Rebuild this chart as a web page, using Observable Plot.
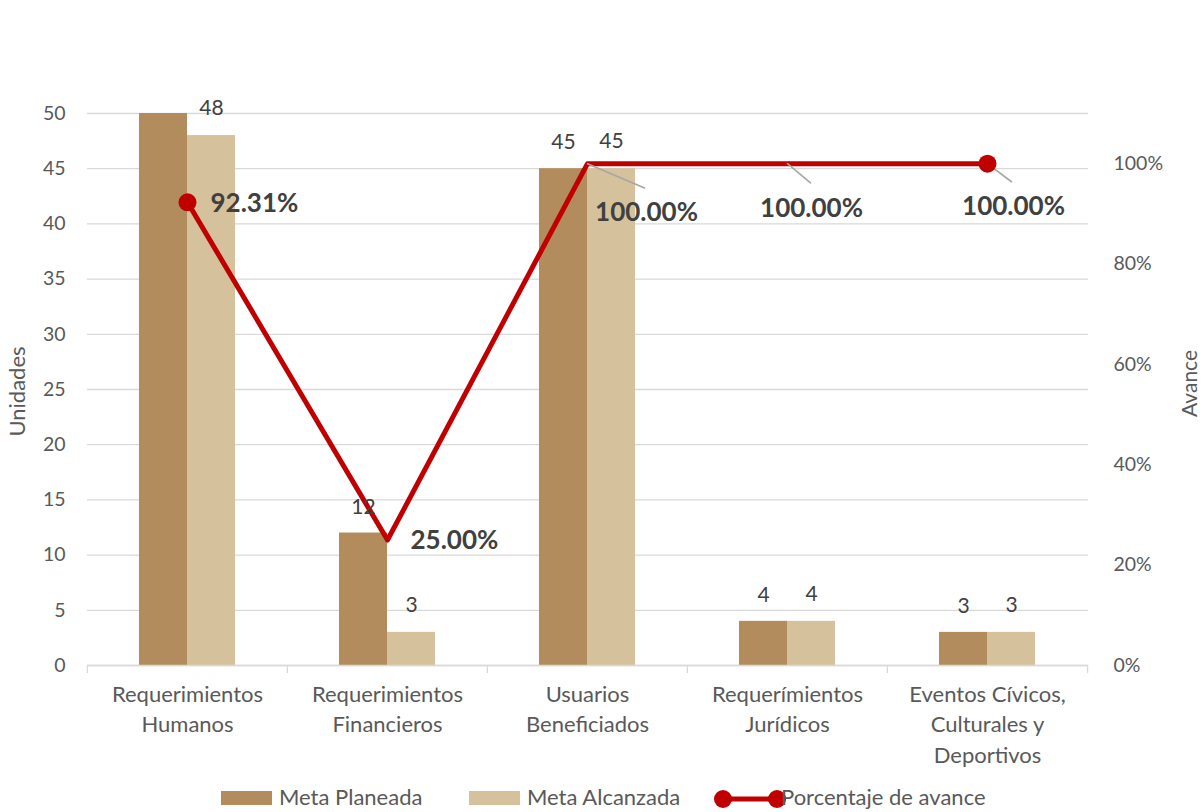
<!DOCTYPE html>
<html>
<head>
<meta charset="utf-8">
<script src="https://cdn.jsdelivr.net/npm/d3@7"></script>
<script src="https://cdn.jsdelivr.net/npm/@observablehq/plot@0.6"></script>
<style>
  body { margin: 0; background: #fff; font-family: Lato, "Open Sans", sans-serif; }
  #wrap { width: 1203px; height: 812px; position: relative; overflow: hidden; }
  #legend { position: absolute; left: 0; top: 782px; width: 1203px; height: 30px; font-size: 22px; color: #595959; }
  #legend .sw { position: absolute; top: 9px; width: 51px; height: 14px; }
  #legend .tx { position: absolute; top: 2px; line-height: 26px; white-space: nowrap; }
</style>
</head>
<body>
<div id="wrap">
  <div id="chart"></div>
  <div id="legend"></div>
</div>
<script>
// ---- Data ----
const categories = [
  "Requerimientos\nHumanos",
  "Requerimientos\nFinancieros",
  "Usuarios\nBeneficiados",
  "Requerímientos\nJurídicos",
  "Eventos Cívicos,\nCulturales y\nDeportivos"
];
const metaPlaneada  = [52, 12, 45, 4, 3];
const metaAlcanzada = [48, 3, 45, 4, 3];
const porcentaje    = [0.9231, 0.25, 1.0, 1.0, 1.0];
const leftTicks  = [0, 5, 10, 15, 20, 25, 30, 35, 40, 45, 50];
const rightTicks = [0, 0.2, 0.4, 0.6, 0.8, 1.0];
const seriesNames = ["Meta Planeada", "Meta Alcanzada", "Porcentaje de avance"];

// ---- Styles ----
const cPlan = "#b28c5c", cAlc = "#d5c19b", cLine = "#c00000";
const yMax = 50, pctMax = 1.1;          // secondary axis max (110%) aligned with 50 units
const toUnits = p => p * yMax / pctMax;

const rows = categories.map((c, i) => ({
  cat: c, plan: metaPlaneada[i], alc: metaAlcanzada[i], pct: porcentaje[i], i
}));

// per-label placement (style/layout for the percentage labels)
const pctLabelStyle = [
  {dx: 23, dy: 1, anchor: "start"},
  {dx: 23, dy: 1, anchor: "start"},
  {dx: 59, dy: 49, anchor: "middle", lead: {len: 62, rot: 113}},
  {dx: 24, dy: 45, anchor: "middle", lead: {len: 30, rot: 130}},
  {dx: 26, dy: 43, anchor: "middle", lead: {len: 30, rot: 127}}
];

const W = 1203, H = 775;
const mL = 87, mR = 115, mT = 113, mB = 110;
const step = (W - mL - mR) / categories.length;

const leaderShape = { draw(ctx, l) { ctx.moveTo(0, 0); ctx.lineTo(0, -l); } };

const marks = [
  Plot.gridY(leftTicks, {stroke: "#d9d9d9", strokeOpacity: 1, strokeWidth: 1.3}),
  Plot.barY(rows, {x: "cat", y: "plan", fill: cPlan, insetRight: 48, clip: true}),
  Plot.barY(rows, {x: "cat", y: "alc", fill: cAlc, insetLeft: 48, clip: true}),
  Plot.ruleY([0], {stroke: "#d9d9d9", strokeWidth: 1.5}),
  Plot.ruleX(categories, {x: d => d, dx: -step / 2, stroke: "#d9d9d9", strokeWidth: 1.3, insetTop: H - mT - mB, insetBottom: -8}),
  Plot.ruleX(categories.slice(-1), {x: d => d, dx: step / 2, stroke: "#d9d9d9", strokeWidth: 1.3, insetTop: H - mT - mB, insetBottom: -8}),
  Plot.line(rows, {x: "cat", y: d => toUnits(d.pct), stroke: cLine, strokeWidth: 5, curve: "linear"}),
];

rows.forEach((r, i) => {
  const s = pctLabelStyle[i];
  if (s.lead) {
    marks.push(Plot.vector([r], {x: "cat", y: d => toUnits(d.pct), length: s.lead.len, rotate: s.lead.rot,
      anchor: "start", shape: leaderShape, stroke: "#a6a6a6", strokeWidth: 1.6}));
  }
});

marks.push(
  Plot.dot(rows.filter(d => d.i === 0 || d.i === rows.length - 1),
    {x: "cat", y: d => toUnits(d.pct), r: 9, fill: cLine, stroke: "none"}),
  Plot.text(rows.filter(d => d.plan <= yMax), {x: "cat", y: "plan", text: d => String(d.plan), dx: -24, dy: -26,
    fill: "#404040", fontSize: 21, fontFamily: "Lato"}),
  Plot.text(rows.filter(d => d.alc <= yMax), {x: "cat", y: "alc", text: d => String(d.alc), dx: 24, dy: -27,
    fill: "#404040", fontSize: 21, fontFamily: "Lato"})
);

rows.forEach((r, i) => {
  const s = pctLabelStyle[i];
  marks.push(Plot.text([r], {x: "cat", y: d => toUnits(d.pct), text: d => (d.pct * 100).toFixed(2) + "%",
    dx: s.dx, dy: s.dy, textAnchor: s.anchor, fill: "#404040", fontSize: 26, fontWeight: "bold", fontFamily: "Lato"}));
});

marks.push(
  Plot.axisY({ticks: leftTicks, tickSize: 0, tickPadding: 22, fontSize: 19.5, fill: "#595959", label: null}),
  Plot.axisY({anchor: "right", ticks: rightTicks.map(toUnits), tickFormat: v => Math.round(v / yMax * pctMax * 100) + "%",
    tickSize: 0, tickPadding: 25, fontSize: 19.5, fill: "#595959", label: null}),
  Plot.text(categories, {x: d => d, text: d => d, frameAnchor: "bottom", lineAnchor: "top", dy: 15,
    lineHeight: 1.38, fontSize: 22, fill: "#595959", fontFamily: "Lato"}),
  Plot.text(["Unidades"], {frameAnchor: "left", textAnchor: "middle", text: d => d, rotate: -90, dx: -70, dy: 2,
    fontSize: 22, fill: "#595959", fontFamily: "Lato"}),
  Plot.text(["Avance"], {frameAnchor: "right", textAnchor: "middle", text: d => d, rotate: -90, dx: 102, dy: -6,
    fontSize: 21, fill: "#595959", fontFamily: "Lato"})
);

const chart = Plot.plot({
  width: W, height: H,
  marginLeft: mL, marginRight: mR, marginTop: mT, marginBottom: mB,
  style: {fontFamily: "Lato, 'Open Sans', sans-serif", background: "white", overflow: "visible"},
  x: {domain: categories, paddingInner: 0.52, paddingOuter: 0.26, axis: null},
  y: {domain: [0, yMax], axis: null},
  marks
});
document.getElementById("chart").appendChild(chart);

// ---- Legend ----
const leg = document.getElementById("legend");
leg.innerHTML = `
  <div class="sw" style="left:221px;background:${cPlan}"></div>
  <div class="tx" style="left:279px">${seriesNames[0]}</div>
  <div class="sw" style="left:469px;background:${cAlc}"></div>
  <div class="tx" style="left:527px">${seriesNames[1]}</div>
  <svg style="position:absolute;left:710px;top:4px" width="80" height="26">
    <line x1="13" y1="13" x2="67" y2="13" stroke="${cLine}" stroke-width="5"/>
    <circle cx="13" cy="13" r="9" fill="${cLine}"/>
    <circle cx="67" cy="13" r="9" fill="${cLine}"/>
  </svg>
  <div class="tx" style="left:781px">${seriesNames[2]}</div>`;
</script>
</body>
</html>
